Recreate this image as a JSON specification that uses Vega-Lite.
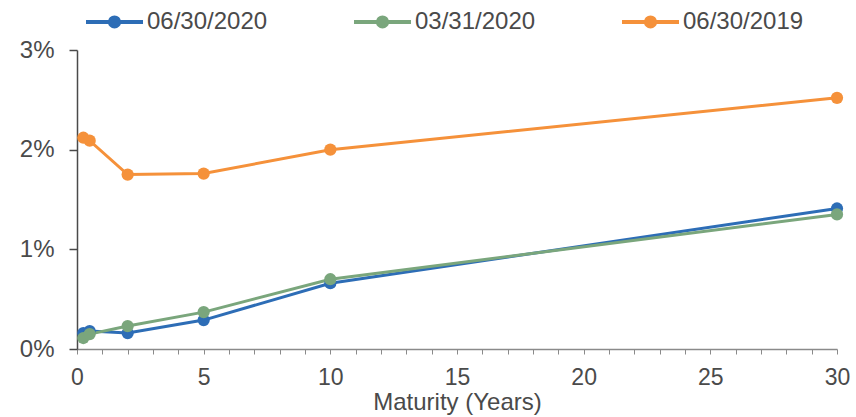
{
  "$schema": "https://vega.github.io/schema/vega-lite/v6.json",
  "width": 760,
  "height": 299,
  "autosize": {"type": "none"},
  "padding": {"left": 77, "top": 50, "right": 19, "bottom": 68},
  "background": "white",
  "config": {
    "view": {"stroke": null},
    "font": "Liberation Sans",
    "axis": {"grid": false, "labelColor": "#4a4a4a", "titleColor": "#4a4a4a", "titleFontWeight": "normal"}
  },
  "data": {
    "values": [
      {"curve": "06/30/2020", "maturity": 0.25, "yield": 0.16},
      {"curve": "06/30/2020", "maturity": 0.5, "yield": 0.18},
      {"curve": "06/30/2020", "maturity": 2, "yield": 0.16},
      {"curve": "06/30/2020", "maturity": 5, "yield": 0.29},
      {"curve": "06/30/2020", "maturity": 10, "yield": 0.66},
      {"curve": "06/30/2020", "maturity": 30, "yield": 1.41},
      {"curve": "03/31/2020", "maturity": 0.25, "yield": 0.11},
      {"curve": "03/31/2020", "maturity": 0.5, "yield": 0.15},
      {"curve": "03/31/2020", "maturity": 2, "yield": 0.23},
      {"curve": "03/31/2020", "maturity": 5, "yield": 0.37},
      {"curve": "03/31/2020", "maturity": 10, "yield": 0.70},
      {"curve": "03/31/2020", "maturity": 30, "yield": 1.35},
      {"curve": "06/30/2019", "maturity": 0.25, "yield": 2.12},
      {"curve": "06/30/2019", "maturity": 0.5, "yield": 2.09},
      {"curve": "06/30/2019", "maturity": 2, "yield": 1.75},
      {"curve": "06/30/2019", "maturity": 5, "yield": 1.76},
      {"curve": "06/30/2019", "maturity": 10, "yield": 2.00},
      {"curve": "06/30/2019", "maturity": 30, "yield": 2.52}
    ]
  },
  "mark": {"type": "line", "strokeWidth": 3, "point": {"filled": true, "size": 150, "opacity": 1}},
  "encoding": {
    "x": {
      "field": "maturity",
      "type": "quantitative",
      "scale": {"domain": [0, 30], "nice": false},
      "axis": {
        "title": "Maturity (Years)",
        "titleFontSize": 24,
        "titlePadding": 1,
        "values": [0,1,2,3,4,5,6,7,8,9,10,11,12,13,14,15,16,17,18,19,20,21,22,23,24,25,26,27,28,29,30],
        "labelExpr": "datum.value % 5 === 0 ? datum.label : ''",
        "labelOverlap": false,
        "labelFlush": false,
        "labelFontSize": 23,
        "labelPadding": 12,
        "domainColor": "#8a8a8a",
        "domainWidth": 1.5,
        "tickColor": "#8a8a8a",
        "tickSize": 5
      }
    },
    "y": {
      "field": "yield",
      "type": "quantitative",
      "scale": {"domain": [0, 3], "nice": false},
      "axis": {
        "title": null,
        "values": [0, 1, 2, 3],
        "labelExpr": "datum.value + '%'",
        "labelFontSize": 24,
        "labelPadding": 15,
        "domainColor": "#4a4a4a",
        "domainWidth": 1.5,
        "tickColor": "#4a4a4a",
        "tickWidth": 1.5,
        "tickSize": 8
      }
    },
    "color": {
      "field": "curve",
      "type": "nominal",
      "scale": {
        "domain": ["06/30/2020", "03/31/2020", "06/30/2019"],
        "range": ["#2d6db6", "#7aa67c", "#f5913a"]
      },
      "legend": {
        "title": null,
        "orient": "none",
        "direction": "horizontal",
        "legendX": 7,
        "legendY": -59,
        "padding": 0,
        "symbolType": "M-1,0H1M-0.16,0A0.16,0.16 0 1,0 0.16,0A0.16,0.16 0 1,0 -0.16,0Z",
        "symbolSize": 3249,
        "symbolStrokeWidth": 4,
        "labelFontSize": 24,
        "labelColor": "#4a4a4a",
        "labelOffset": 2,
        "columnPadding": 78,
        "encode": {
          "symbols": {
            "update": {
              "fill": {"scale": "color", "field": "value"},
              "stroke": {"scale": "color", "field": "value"}
            }
          }
        }
      }
    }
  }
}
